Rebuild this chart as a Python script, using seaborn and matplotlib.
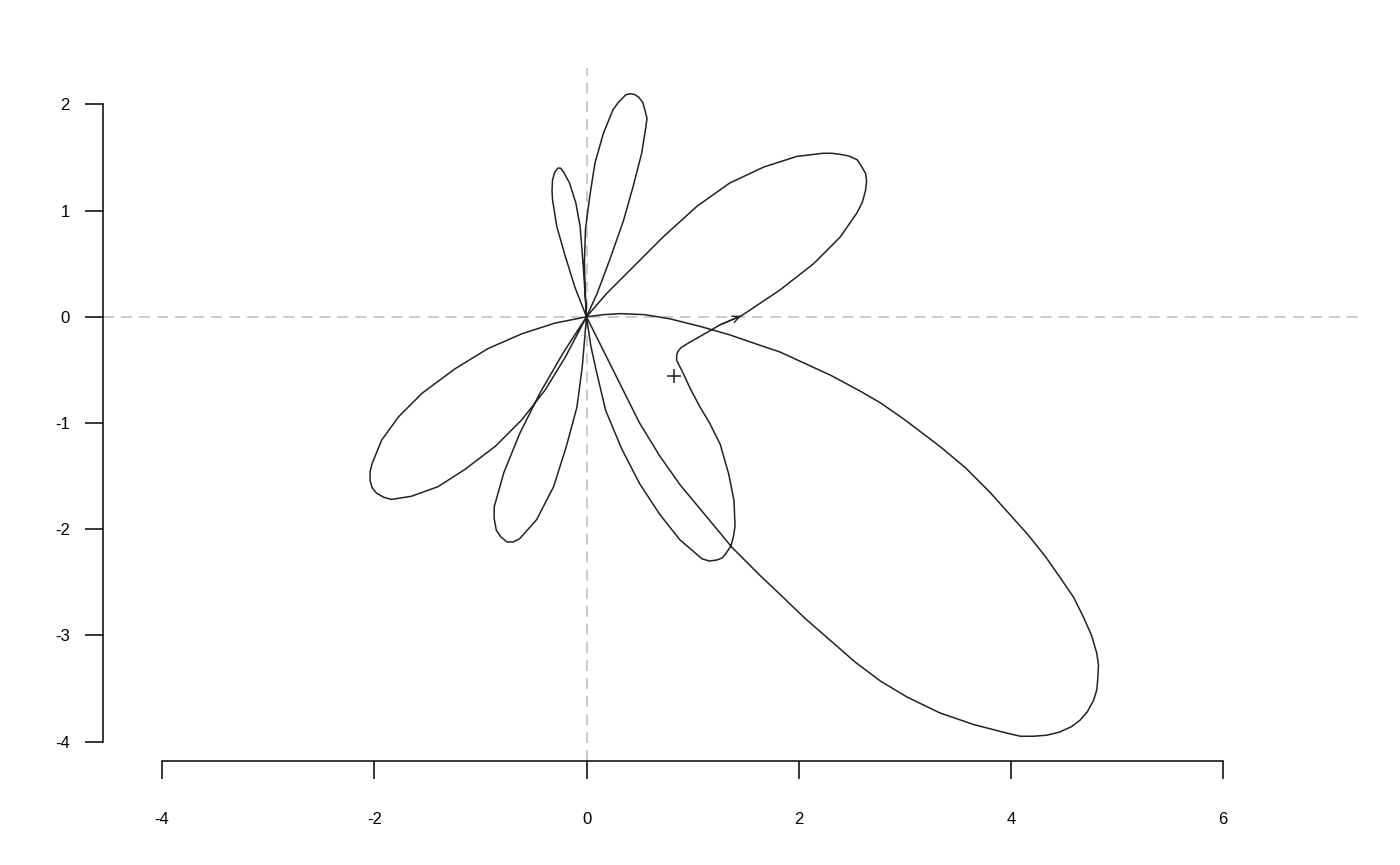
import numpy as np
import pandas as pd
import seaborn as sns
import matplotlib.pyplot as plt

# petal outlines, each loop starts and ends at the origin
big_x = [0, 0.16, 0.32, 0.55, 0.79, 1.07, 1.35, 1.64, 1.82, 2.30, 2.58, 2.77, 3.00, 3.33,
         3.57, 3.80, 3.97, 4.15, 4.32, 4.46, 4.59, 4.68, 4.76, 4.81, 4.825, 4.82, 4.81,
         4.78, 4.72, 4.65, 4.57, 4.46, 4.34, 4.21, 4.09, 3.96, 3.65, 3.33, 3.02, 2.77,
         2.53, 2.30, 2.06, 1.82, 1.64, 1.51, 1.37, 1.13, 0.88, 0.69, 0.50, 0.32, 0.16, 0]
big_y = [0, 0.02, 0.03, 0.02, -0.02, -0.09, -0.17, -0.27, -0.33, -0.55, -0.70, -0.81,
         -0.97, -1.22, -1.42, -1.65, -1.84, -2.04, -2.25, -2.45, -2.64, -2.82, -3.00,
         -3.17, -3.28, -3.39, -3.51, -3.61, -3.72, -3.80, -3.86, -3.91, -3.94, -3.95,
         -3.95, -3.92, -3.84, -3.73, -3.58, -3.43, -3.25, -3.05, -2.84, -2.61, -2.44,
         -2.31, -2.17, -1.88, -1.58, -1.31, -1.00, -0.64, -0.32, 0]

# lower petal that runs through the kink into the upper right petal
hook_x = [0, 0.04, 0.09, 0.18, 0.33, 0.50, 0.69, 0.88, 1.02, 1.09, 1.16, 1.23, 1.28,
          1.32, 1.36, 1.385, 1.40, 1.39, 1.34, 1.26, 1.16, 1.07, 0.98, 0.91, 0.88, 0.85,
          0.85, 0.86, 0.89, 0.93, 0.99, 1.07, 1.26, 1.46, 1.64, 1.82, 2.14, 2.39, 2.55,
          2.60, 2.63, 2.64, 2.63, 2.59, 2.55, 2.47, 2.39, 2.31, 2.23, 1.98, 1.67, 1.35,
          1.04, 0.72, 0.41, 0.19, 0]
hook_y = [0, -0.27, -0.50, -0.88, -1.24, -1.57, -1.86, -2.10, -2.22, -2.28, -2.30,
          -2.29, -2.27, -2.22, -2.16, -2.07, -1.97, -1.73, -1.48, -1.20, -1.00, -0.85,
          -0.68, -0.53, -0.47, -0.41, -0.36, -0.33, -0.29, -0.265, -0.23, -0.185, -0.075,
          0.01, 0.13, 0.25, 0.50, 0.75, 0.98, 1.08, 1.19, 1.28, 1.35, 1.42, 1.48, 1.515,
          1.53, 1.54, 1.54, 1.51, 1.41, 1.26, 1.04, 0.75, 0.44, 0.22, 0]

tall_x = [0, 0.10, 0.22, 0.35, 0.44, 0.52, 0.56, 0.57, 0.55, 0.53, 0.49, 0.45, 0.41,
          0.37, 0.35, 0.30, 0.25, 0.16, 0.08, 0.03, -0.01, -0.02, -0.01, 0]
tall_y = [0, 0.22, 0.54, 0.91, 1.23, 1.54, 1.79, 1.87, 1.95, 2.02, 2.07, 2.095, 2.10,
          2.09, 2.07, 2.02, 1.95, 1.73, 1.45, 1.13, 0.82, 0.50, 0.19, 0]

small_x = [0, -0.11, -0.20, -0.28, -0.32, -0.325, -0.32, -0.30, -0.27, -0.245, -0.22,
           -0.16, -0.10, -0.06, -0.04, -0.02, 0]
small_y = [0, 0.28, 0.57, 0.85, 1.10, 1.19, 1.29, 1.36, 1.40, 1.40, 1.37, 1.26, 1.07,
           0.85, 0.60, 0.32, 0]

left_x = [0, -0.30, -0.61, -0.93, -1.24, -1.55, -1.77, -1.93, -2.02, -2.04, -2.04,
          -2.02, -1.98, -1.91, -1.84, -1.65, -1.40, -1.15, -0.86, -0.61, -0.39, -0.20, 0]
left_y = [0, -0.06, -0.16, -0.30, -0.49, -0.72, -0.94, -1.16, -1.38, -1.46, -1.54,
          -1.61, -1.66, -1.70, -1.72, -1.69, -1.60, -1.44, -1.22, -0.97, -0.69, -0.38, 0]

down_x = [0, -0.22, -0.44, -0.63, -0.78, -0.87, -0.87, -0.85, -0.81, -0.75, -0.69,
          -0.63, -0.47, -0.31, -0.19, -0.09, -0.04, 0]
down_y = [0, -0.34, -0.72, -1.10, -1.47, -1.79, -1.90, -2.01, -2.07, -2.12, -2.12,
          -2.09, -1.91, -1.60, -1.22, -0.85, -0.47, 0]

center_x = [0.82]
center_y = [-0.56]
arrow_at = hook_x.index(1.46)   # where the direction arrow sits on the curve

xs = big_x + hook_x + tall_x + small_x + left_x + down_x
ys = big_y + hook_y + tall_y + small_y + left_y + down_y
curve = pd.DataFrame({"x": xs, "y": ys})

sns.set_theme(style="ticks")
plt.rcParams['font.family'] = ['Liberation Sans', 'DejaVu Sans']
plt.rcParams['axes.unicode_minus'] = False

ink = '#222222'
fig = plt.figure(figsize=(14, 8.65), dpi=100)
ax = fig.add_axes([103/1400, 1 - 761/865, 1259/1400, 693/865])

ax.axhline(0, color='#bdbdbd', lw=1.1, ls=(0, (7.2, 4.6)), zorder=1)
ax.axvline(0, color='#bdbdbd', lw=1.1, ls=(0, (7.2, 4.6)), zorder=1)

sns.lineplot(data=curve, x="x", y="y", sort=False, estimator=None,
             color=ink, lw=1.1, ax=ax, zorder=3)
ax.lines[-1].set_solid_joinstyle('round')

ax.annotate("", xy=(hook_x[arrow_at], hook_y[arrow_at]),
            xytext=(hook_x[arrow_at - 1], hook_y[arrow_at - 1]),
            arrowprops=dict(arrowstyle="->,head_length=0.45,head_width=0.2",
                            color=ink, lw=1.0, shrinkA=0, shrinkB=0))
ax.plot(center_x, center_y, marker='+', ms=10, mew=1.1, color=ink, ls='none')

ax.set_xlim(-4.557, 7.309)
ax.set_ylim(-4.183, 2.343)
ax.set_xticks([-4, -2, 0, 2, 4, 6])
ax.set_yticks([-4, -3, -2, -1, 0, 1, 2])
ax.set_xticklabels(['-4', '-2', '0', '2', '4', '6'])
ax.set_yticklabels(['-4', '-3', '-2', '-1', '0', '1', '2'])
ax.set_xlabel("")
ax.set_ylabel("")

for s in ['top', 'right']:
    ax.spines[s].set_visible(False)
ax.spines['left'].set_bounds(-4, 2)
ax.spines['bottom'].set_bounds(-4, 6)
for s in ['left', 'bottom']:
    ax.spines[s].set_color('black')
    ax.spines[s].set_linewidth(1.1)
ax.tick_params(axis='both', direction='out', length=13, width=1.1,
               color='black', labelcolor='black', labelsize=12)
ax.tick_params(axis='y', pad=11)
ax.tick_params(axis='x', pad=24)

fig.savefig("out.png", dpi=100)
